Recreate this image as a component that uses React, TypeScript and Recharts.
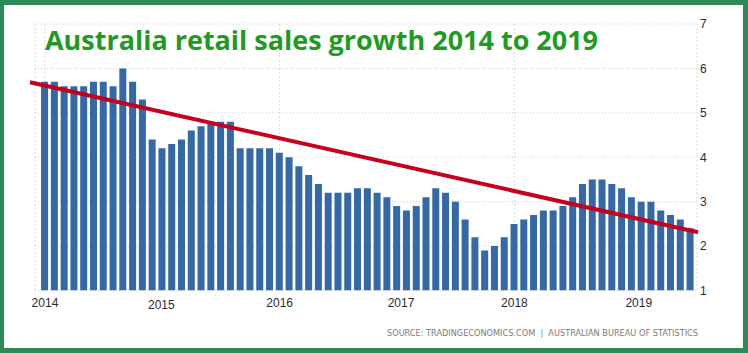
import React from 'react'
import { ComposedChart, Bar, XAxis, YAxis, CartesianGrid, ReferenceLine } from 'recharts'

// monthly retail sales growth, Jan 2014 .. Jul 2019 (% yoy)
const SALES_GROWTH = [
  5.7, 5.7, 5.6, 5.6, 5.6, 5.7, 5.7, 5.6, 6.0, 5.7, 5.3, 4.4,
  4.2, 4.3, 4.4, 4.6, 4.7, 4.8, 4.8, 4.8, 4.2, 4.2, 4.2, 4.2,
  4.1, 4.0, 3.8, 3.6, 3.4, 3.2, 3.2, 3.2, 3.3, 3.3, 3.2, 3.1,
  2.9, 2.8, 2.9, 3.1, 3.3, 3.2, 3.0, 2.6, 2.2, 1.9, 2.0, 2.2,
  2.5, 2.6, 2.7, 2.8, 2.8, 2.9, 3.1, 3.4, 3.5, 3.5, 3.4, 3.3,
  3.1, 3.0, 3.0, 2.8, 2.7, 2.6, 2.4,
]

const YEAR_LABELS = ['2014', '2015', '2016', '2017', '2018', '2019']
const YEAR_TICKS = [0, 12, 24, 36, 48, 60] // month index of each January
const GRID_MONTHS = [0, 24, 48] // vertical grid every two years
const Y_TICKS = [1, 2, 3, 4, 5, 6, 7]

// trend line end points (month index, value)
const TREND = [
  { x: -1.53, y: 5.69 },
  { x: 66.77, y: 2.31 },
]

const X_DOMAIN: [number, number] = [-1.02, 66.67]

const data = SALES_GROWTH.map((value, idx) => ({ idx, value }))

// small label nudges seen in the original
const TICK_NUDGE: Record<string, { dx: number; dy: number }> = {
  '2015': { dx: -1, dy: 2 },
  '2017': { dx: 4, dy: 0 },
  '2019': { dx: 7, dy: 0 },
}

const YearTick = (props: any) => {
  const { x, y, payload } = props
  const i = YEAR_TICKS.indexOf(payload.value)
  const label = YEAR_LABELS[i] ?? ''
  const nudge = TICK_NUDGE[label] || { dx: 0, dy: 0 }
  return (
    <text
      x={x + nudge.dx}
      y={y + 16.5 + nudge.dy}
      textAnchor="middle"
      fill="#2b2b2b"
      fontSize={12}
      fontFamily="'Liberation Sans', Arial, sans-serif"
    >
      {label}
    </text>
  )
}

export default function App() {
  return (
    <div style={{ position: 'absolute', left: 0, top: 0, width: 748, height: 353, background: '#fff' }}>
      <ComposedChart
        width={748}
        height={353}
        data={data}
        margin={{ top: 24, right: 21, left: 35, bottom: 0 }}
      >
        <CartesianGrid vertical={false} stroke="#cfcfcf" strokeDasharray="1 2" />
        <CartesianGrid horizontal={false} xAxisId="grid" stroke="#dcdcdc" strokeDasharray="2 2" />
        <XAxis
          dataKey="idx"
          type="number"
          domain={X_DOMAIN}
          allowDataOverflow
          ticks={YEAR_TICKS}
          interval={0}
          axisLine={false}
          tickLine={false}
          tickSize={0}
          tickMargin={0}
          height={62.5}
          tick={<YearTick />}
        />
        <XAxis
          xAxisId="grid"
          dataKey="idx"
          type="number"
          domain={X_DOMAIN}
          allowDataOverflow
          ticks={GRID_MONTHS}
          interval={0}
          hide
        />
        <YAxis
          orientation="right"
          domain={[1, 7]}
          ticks={Y_TICKS}
          allowDataOverflow
          axisLine={false}
          tickLine={false}
          tickSize={0}
          tickMargin={3}
          width={30}
          tick={{ fill: '#2b2b2b', fontSize: 12, fontFamily: "'Liberation Sans', Arial, sans-serif", textAnchor: 'start' }}
        />
        <Bar dataKey="value" fill="#3568a6" barSize={7} isAnimationActive={false} />
        <ReferenceLine segment={TREND} stroke="#c4001c" strokeWidth={4} ifOverflow="visible" />
      </ComposedChart>

      <svg
        width={748}
        height={353}
        style={{ position: 'absolute', left: 0, top: 0, pointerEvents: 'none' }}
      >
        <text
          x={45}
          y={50}
          fill="#1f9b23"
          fontSize={27}
          fontWeight={700}
          fontFamily="'Open Sans', 'Noto Sans', sans-serif"
          textLength={553}
          lengthAdjust="spacingAndGlyphs"
        >
          Australia retail sales growth 2014 to 2019
        </text>
        <text
          x={387}
          y={336}
          fill="#7a7a7a"
          fontSize={9}
          fontFamily="'Liberation Sans Narrow', 'DejaVu Sans Condensed', sans-serif"
          textLength={311}
          lengthAdjust="spacingAndGlyphs"
        >
          {'SOURCE: TRADINGECONOMICS.COM\u00a0\u00a0|\u00a0\u00a0AUSTRALIAN BUREAU OF STATISTICS'}
        </text>
      </svg>

      <div
        style={{
          position: 'absolute',
          left: 0,
          top: 0,
          width: 748,
          height: 353,
          boxSizing: 'border-box',
          borderStyle: 'solid',
          borderColor: '#2e8a58',
          borderWidth: '5px 5px 5px 4px',
          pointerEvents: 'none',
        }}
      />
    </div>
  )
}
